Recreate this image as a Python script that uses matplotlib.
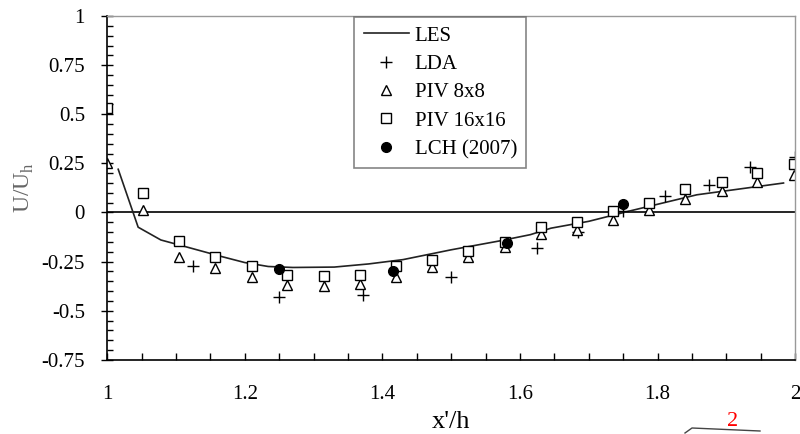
import numpy as np
import matplotlib
matplotlib.use('Agg')
import matplotlib.pyplot as plt
from matplotlib.ticker import MultipleLocator, FuncFormatter
from matplotlib.lines import Line2D

plt.rcParams['font.family'] = ['Liberation Serif', 'DejaVu Serif']

# LES simulation
les_x = [1.016, 1.045, 1.078, 1.12, 1.167, 1.2, 1.234, 1.27, 1.33, 1.38, 1.43,
         1.5, 1.57, 1.615, 1.645, 1.7, 1.76, 1.857, 1.983]
les_y = [0.22, -0.075, -0.14, -0.18, -0.225, -0.255, -0.275, -0.28, -0.278, -0.262, -0.24,
         -0.19, -0.145, -0.113, -0.08, -0.045, 0.008, 0.09, 0.15]

# LDA measurements
lda_x = [1.124, 1.249, 1.372, 1.5, 1.624, 1.685, 1.749, 1.811, 1.874, 1.935, 1.999]
lda_y = [-0.27, -0.43, -0.42, -0.33, -0.18, -0.10, 0.005, 0.085, 0.14, 0.23, 0.28]

# PIV x positions (shared by both window sizes)
piv_x = [1.0, 1.052, 1.105, 1.157, 1.21, 1.262, 1.315, 1.367, 1.42, 1.472,
         1.525, 1.578, 1.63, 1.683, 1.735, 1.788, 1.84, 1.893, 1.945, 1.998]
piv8_y = [0.25, 0.015, -0.225, -0.285, -0.33, -0.37, -0.375, -0.365, -0.33, -0.28,
          -0.225, -0.175, -0.11, -0.09, -0.04, 0.015, 0.07, 0.11, 0.155, 0.19]
piv16_y = [0.53, 0.10, -0.145, -0.225, -0.27, -0.32, -0.325, -0.32, -0.27, -0.24,
           -0.195, -0.15, -0.075, -0.05, 0.01, 0.05, 0.12, 0.155, 0.20, 0.245]

# LCH (2007)
lch_x = [1.249, 1.416, 1.581, 1.75]
lch_y = [-0.29, -0.30, -0.155, 0.045]

fig = plt.figure(figsize=(8, 4.34), dpi=100)
ax = fig.add_axes([0.134, 0.171, 0.86, 0.792])

ax.axhline(0, color='black', lw=1.2, zorder=1)
ax.plot(les_x, les_y, color='#222222', lw=1.2, label='LES')
ax.plot(lda_x, lda_y, ls='none', marker='+', ms=8, mew=1.0, color='black', label='LDA')
ax.plot(piv_x, piv8_y, ls='none', marker='^', ms=6.5, mfc='white', mec='black', mew=1.0,
        label='PIV 8x8')
ax.plot(piv_x, piv16_y, ls='none', marker='s', ms=7, mfc='white', mec='black', mew=1.0,
        label='PIV 16x16')
ax.plot(lch_x, lch_y, ls='none', marker='o', ms=7, color='black', label='LCH (2007)')

ax.set_xlim(1, 2)
ax.set_ylim(-0.75, 1)
ax.xaxis.set_major_locator(MultipleLocator(0.2))
ax.xaxis.set_minor_locator(MultipleLocator(0.05))
ax.yaxis.set_major_locator(MultipleLocator(0.25))
ax.yaxis.set_minor_locator(MultipleLocator(0.05))
ax.xaxis.set_major_formatter(FuncFormatter(lambda v, p: ('%g' % round(v, 2))))
ax.yaxis.set_major_formatter(FuncFormatter(lambda v, p: ('%g' % round(v, 2))))

ax.tick_params(axis='x', which='both', direction='in', length=5, width=1, pad=18,
               labelsize=15, top=False)
ax.tick_params(axis='y', which='major', direction='inout', length=8, width=1, pad=12,
               labelsize=15, right=False)
ax.tick_params(axis='y', which='minor', direction='in', length=4, width=1, right=False)

for s in ['left', 'bottom']:
    ax.spines[s].set_color('black')
    ax.spines[s].set_linewidth(1.2)
for s in ['top', 'right']:
    ax.spines[s].set_color('#999999')
    ax.spines[s].set_linewidth(1.0)

ax.set_ylabel('U/U$_\\mathregular{h}$', fontsize=17, color='#666666', labelpad=4)
ax.set_xlabel("x'/h", fontsize=19, labelpad=5)

leg = ax.legend(loc='upper left', bbox_to_anchor=(0.359, 0.998),
                frameon=True, fancybox=False, fontsize=15, handlelength=2.2,
                borderpad=0.45, labelspacing=0.42, handletextpad=0.25, borderaxespad=0)
leg.get_frame().set_edgecolor('#666666')
leg.get_frame().set_linewidth(1.2)

# fragment of neighbouring figure at bottom right
fig.add_artist(Line2D([685 / 800, 692 / 800, 760 / 800], [1 - 433 / 434, 1 - 428 / 434, 1 - 431 / 434],
                      transform=fig.transFigure, color='#444444', lw=1))
fig.text(733 / 800, 1 - 421 / 434, '2', color='red', fontsize=16, ha='center', va='center')

fig.savefig('out.png', dpi=100)
